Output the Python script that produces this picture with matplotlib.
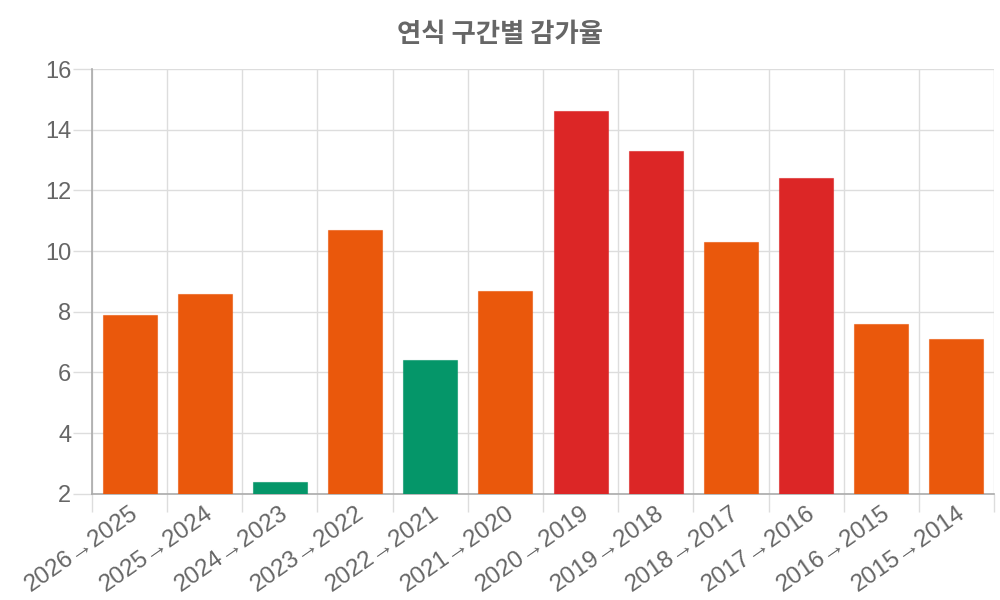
import matplotlib
matplotlib.use("Agg")
import matplotlib.pyplot as plt
import matplotlib.transforms as mtrans
import numpy as np

categories = ["2026→2025", "2025→2024", "2024→2023", "2023→2022", "2022→2021", "2021→2020",
              "2020→2019", "2019→2018", "2018→2017", "2017→2016", "2016→2015", "2015→2014"]
values = [7.9, 8.6, 2.4, 10.7, 6.4, 8.7, 14.6, 13.3, 10.3, 12.4, 7.6, 7.1]
bar_colors = ["#EA580C", "#EA580C", "#059669", "#EA580C", "#059669", "#EA580C",
              "#DC2626", "#DC2626", "#EA580C", "#DC2626", "#EA580C", "#EA580C"]
title = "연식 구간별 감가율"
y_ticks = [2, 4, 6, 8, 10, 12, 14, 16]

plt.rcParams['font.family'] = ['Liberation Sans', 'DejaVu Sans']

fig = plt.figure(figsize=(10, 6), dpi=100)
ax = fig.add_axes([0.092, 0.177, 0.902, 0.708])

x = np.arange(len(categories))
ax.bar(x, values, width=0.72, color=bar_colors, edgecolor=[c + "99" for c in bar_colors],
       linewidth=0.8, zorder=3)

ax.set_xlim(-0.5, len(categories) - 0.5)
ax.set_ylim(2, 16)
ax.set_yticks(y_ticks)
ax.set_yticklabels([str(v) for v in y_ticks], fontsize=17, color="#666666")

ax.set_xticks(x)
labels = ax.set_xticklabels(categories, rotation=35, ha="right", rotation_mode="anchor",
                            fontsize=17.5, color="#666666")
offset = mtrans.ScaledTranslation(-4 / 100, 0, fig.dpi_scale_trans)
for lab in labels:
    lab.set_transform(lab.get_transform() + offset)
ax.tick_params(axis="x", which="major", length=0, pad=6)
ax.set_xticks(np.arange(-0.5, len(categories)), minor=True)
ax.tick_params(axis="x", which="minor", length=13, color="#dddddd", width=1)
ax.tick_params(axis="y", length=14, color="#dddddd", width=1, pad=1)

ax.grid(axis="y", color="#dddddd", linewidth=1, zorder=0)
ax.grid(axis="x", which="minor", color="#dddddd", linewidth=1, zorder=0)
ax.set_axisbelow(True)

for s in ["top", "right"]:
    ax.spines[s].set_visible(False)
for s in ["left", "bottom"]:
    ax.spines[s].set_color("#aaaaaa")
    ax.spines[s].set_linewidth(1.2)

fig.text(0.5, 0.942, title, ha="center", va="center", fontsize=19, fontweight="bold",
         color="#666666", family=["Noto Sans CJK KR", "DejaVu Sans"])

fig.savefig("out.png", dpi=100, facecolor="white")
